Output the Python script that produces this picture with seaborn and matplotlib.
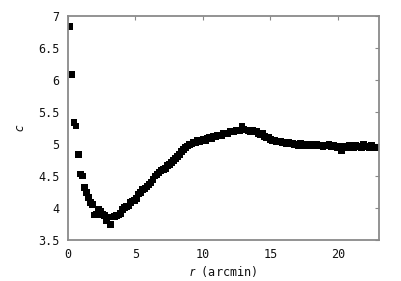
import matplotlib
matplotlib.use("Agg")
import matplotlib.pyplot as plt
import seaborn as sns
import pandas as pd

r_arcmin = [
    0.15, 0.30, 0.45, 0.60, 0.75, 0.90, 1.05, 1.20, 1.35, 1.50,
    1.65, 1.80, 1.95, 2.10, 2.25, 2.40, 2.55, 2.70, 2.85, 3.00,
    3.15, 3.30, 3.45, 3.60, 3.75, 3.90, 4.05, 4.20, 4.35, 4.50,
    4.65, 4.80, 4.95, 5.10, 5.25, 5.40, 5.55, 5.70, 5.85, 6.00,
    6.15, 6.30, 6.45, 6.60, 6.75, 6.90, 7.05, 7.20, 7.35, 7.50,
    7.65, 7.80, 7.95, 8.10, 8.25, 8.40, 8.55, 8.70, 8.85, 9.00,
    9.15, 9.30, 9.45, 9.60, 9.75, 9.90, 10.05, 10.20, 10.35, 10.50,
    10.65, 10.80, 10.95, 11.10, 11.25, 11.40, 11.55, 11.70, 11.85, 12.00,
    12.15, 12.30, 12.45, 12.60, 12.75, 12.90, 13.05, 13.20, 13.35, 13.50,
    13.65, 13.80, 13.95, 14.10, 14.25, 14.40, 14.55, 14.70, 14.85, 15.00,
    15.15, 15.30, 15.45, 15.60, 15.75, 15.90, 16.05, 16.20, 16.35, 16.50,
    16.65, 16.80, 16.95, 17.10, 17.25, 17.40, 17.55, 17.70, 17.85, 18.00,
    18.15, 18.30, 18.45, 18.60, 18.75, 18.90, 19.05, 19.20, 19.35, 19.50,
    19.65, 19.80, 19.95, 20.10, 20.25, 20.40, 20.55, 20.70, 20.85, 21.00,
    21.15, 21.30, 21.45, 21.60, 21.75, 21.90, 22.05, 22.20, 22.35, 22.50,
    22.65, 22.80,
]

c_values = [
    6.84, 6.08, 5.33, 5.28, 4.84, 4.53, 4.50, 4.32, 4.24, 4.16,
    4.09, 4.05, 3.89, 3.90, 3.98, 3.95, 3.90, 3.88, 3.81, 3.86,
    3.74, 3.86, 3.87, 3.88, 3.89, 3.92, 3.98, 4.01, 4.02, 4.03,
    4.09, 4.11, 4.12, 4.15, 4.22, 4.24, 4.29, 4.31, 4.33, 4.37,
    4.40, 4.45, 4.50, 4.52, 4.55, 4.58, 4.60, 4.62, 4.66, 4.68,
    4.71, 4.74, 4.77, 4.80, 4.84, 4.88, 4.91, 4.95, 4.97, 4.99,
    5.00, 5.03, 5.02, 5.05, 5.04, 5.06, 5.07, 5.06, 5.09, 5.10,
    5.08, 5.12, 5.11, 5.13, 5.14, 5.13, 5.16, 5.17, 5.16, 5.19,
    5.20, 5.19, 5.21, 5.22, 5.21, 5.28, 5.23, 5.22, 5.21, 5.20,
    5.21, 5.19, 5.20, 5.17, 5.15, 5.16, 5.12, 5.10, 5.11, 5.07,
    5.05, 5.06, 5.04, 5.03, 5.04, 5.02, 5.03, 5.01, 5.02, 5.00,
    5.01, 4.99, 5.00, 4.98, 5.01, 4.99, 4.97, 5.00, 4.98, 4.97,
    5.00, 4.98, 4.99, 4.97, 4.98, 4.96, 4.98, 4.97, 4.99, 4.96,
    4.98, 4.97, 4.95, 4.97, 4.90, 4.95, 4.97, 4.94, 4.98, 4.96,
    4.95, 4.98, 4.96, 4.97, 4.95, 5.00, 4.96, 4.97, 4.95, 4.98,
    4.94, 4.95,
]

x_ticks = [0, 5, 10, 15, 20]
x_tick_labels = ["0", "5", "10", "15", "20"]
y_ticks = [3.5, 4, 4.5, 5, 5.5, 6, 6.5, 7]
y_tick_labels = ["3.5", "4", "4.5", "5", "5.5", "6", "6.5", "7"]

df = pd.DataFrame({"r": r_arcmin, "c": c_values})

sns.set_theme(style="white")
plt.rcParams["font.family"] = ["DejaVu Sans Mono"]

fig = plt.figure(figsize=(4.02, 2.81), dpi=100)
ax = fig.add_axes([68 / 402, 1 - 240 / 281, (379 - 68) / 402, (240 - 16) / 281])

sns.scatterplot(data=df, x="r", y="c", ax=ax, marker="s", s=24,
                color="black", edgecolor="none", linewidth=0, legend=False)

ax.set_xlim(0, 23.05)
ax.set_ylim(3.5, 7)
ax.set_xticks(x_ticks)
ax.set_xticklabels(x_tick_labels)
ax.set_yticks(y_ticks)
ax.set_yticklabels(y_tick_labels)

ax.tick_params(direction="in", length=3, width=0.8, color="#888888",
               top=True, right=True, labelsize=8.5, labelcolor="#111111", pad=6)
for sp in ax.spines.values():
    sp.set_color("#8a8a8a")
    sp.set_linewidth(1.3)

ax.set_xlabel(r"$r$ (arcmin)", fontsize=8.5, color="#111111", labelpad=2)
ax.set_ylabel(r"$c$", fontsize=8.5, color="#111111", labelpad=8)

fig.savefig("out.png", dpi=100, facecolor="white")
